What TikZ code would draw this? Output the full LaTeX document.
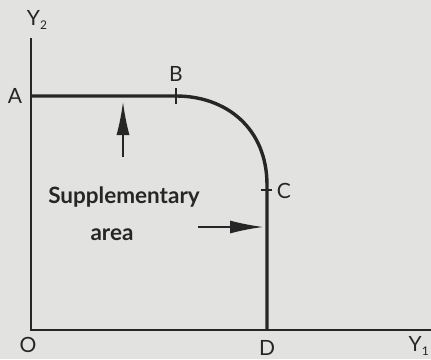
\documentclass[tikz,border=0pt]{standalone}
\usepackage{fontspec}
\setmainfont{Lato}
\usetikzlibrary{arrows.meta}
\definecolor{paper}{RGB}{226,226,224}
\definecolor{ink}{RGB}{38,38,38}
\tikzset{
  axis/.style={draw=ink,line width=2.6pt},
  curve/.style={draw=ink,line width=3.4pt},
  lbl/.style={text=ink,font=\fontsize{21}{23}\selectfont,inner sep=0pt},
  txt/.style={text=ink,font=\bfseries\fontsize{22.5}{25}\selectfont,inner sep=0pt},
  bigarrow/.style={draw=ink,line width=1.4pt,-{Latex[length=33pt,width=13pt]}},
}
\begin{document}
\begin{tikzpicture}[x=1pt,y=-1pt]
\path[fill=paper] (0,0) rectangle (431,359);
\useasboundingbox (0,0) rectangle (431,359);
\clip (0,0) rectangle (431,359);
\coordinate (O) at (31,330);
\coordinate (Ytop) at (31,38);
\coordinate (Xend) at (440,330);
\coordinate (A) at (31,96);
\coordinate (B) at (176,96);
\coordinate (Cc) at (267,185);
\coordinate (D) at (267,330);
\draw[axis] (Ytop) -- (O) -- (Xend);
\draw[curve] (A) -- (B) .. controls (226,96) and (267,128) .. (Cc) -- (D);
\draw[ink,line width=2pt] (176,88) -- (176,104);
\draw[ink,line width=2pt] (261,190) -- (272,190);
\node[lbl] (lY2) at (37,20) {Y\raisebox{-0.35ex}{\fontsize{12}{13}\selectfont 2}};
\node[lbl] (lA) at (15,96) {A};
\node[lbl] (lB) at (176,74) {B};
\node[lbl] (lC) at (284,191) {C};
\node[lbl] (lD) at (267,348) {D};
\node[lbl] (lO) at (28,345) {O};
\node[lbl,anchor=east] (lY1) at (429,346) {Y\raisebox{-0.35ex}{\fontsize{12}{13}\selectfont 1}};
\node[txt] (sup) at (124,197) {Supplementary};
\node[txt] (area) at (112,235) {area};
\coordinate (upS) at (123,157);
\coordinate (upE) at (123,102);
\draw[bigarrow] (upS) -- (upE);
\coordinate (rS) at (198,227);
\coordinate (rE) at (263,227);
\draw[bigarrow] (rS) -- (rE);
\end{tikzpicture}
\end{document}
